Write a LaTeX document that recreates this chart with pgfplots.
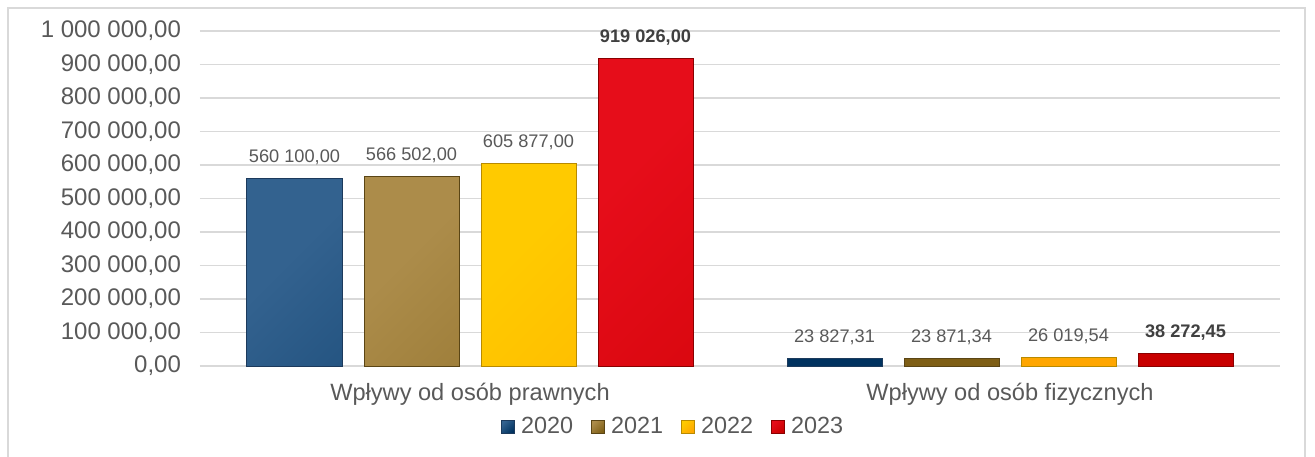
\documentclass[border=0pt]{standalone}
\usepackage{pgfplots}
\pgfplotsset{compat=1.18}
\usepackage{fontspec}
\setmainfont{Liberation Sans}

\definecolor{txt}{HTML}{595959}
\definecolor{txtb}{HTML}{404040}
\definecolor{gridc}{HTML}{D9D9D9}
\definecolor{blueA}{HTML}{33628F}
\definecolor{blueB}{HTML}{00325F}
\definecolor{blueE}{HTML}{1C3A5C}
\definecolor{brownA}{HTML}{AC8C4A}
\definecolor{brownB}{HTML}{7E5E15}
\definecolor{brownE}{HTML}{5A4515}
\definecolor{yelA}{HTML}{FFCA00}
\definecolor{yelB}{HTML}{FFA600}
\definecolor{yelE}{HTML}{B88A00}
\definecolor{redA}{HTML}{E60D1A}
\definecolor{redB}{HTML}{C80000}
\definecolor{redE}{HTML}{8A0000}

\pgfplotsset{
  mybar/.style n args={3}{
    draw=#3, line width=0.5pt,
    top color=#1, bottom color=#2, shading angle=45,
    legend image code/.code={\draw[##1] (0pt,-3.25pt) rectangle (6.5pt,3.25pt);},
    nodes near coords,
    point meta=explicit symbolic,
    every node near coord/.append style={anchor=center, yshift=10.5pt,
      font=\fontsize{9.1}{11}\selectfont, text=txt},
  },
}

\begin{document}
\begin{tikzpicture}
\begin{axis}[
  at={(0,0)}, anchor=south west,
  scale only axis, width=540pt, height=167.5pt,
  ybar=11pt, bar width=47.5pt,
  xmin=-0.5, xmax=1.5, ymin=0, ymax=1000000,
  xtick={0,1},
  xticklabels={Wpływy od osób prawnych, Wpływy od osób fizycznych},
  ytick={0,100000,200000,300000,400000,500000,600000,700000,800000,900000,1000000},
  scaled y ticks=false,
  yticklabel style={font=\fontsize{12}{14}\selectfont, text=txt, xshift=-6pt,
    /pgf/number format/.cd, fixed, fixed zerofill, precision=2,
    use comma, 1000 sep={\ }, assume math mode=true},
  xticklabel style={font=\fontsize{11.8}{14}\selectfont, text=txt, yshift=-5pt},
  ymajorgrids, major grid style={draw=gridc, line width=0.75pt},
  axis line style={draw=none}, major tick length=0pt,
  clip=false,
  legend columns=4,
  legend style={at={(0.439,-0.182)}, anchor=center, draw=none, fill=none,
    font=\fontsize{11.7}{14}\selectfont, text=txt,
    /tikz/every even column/.append style={column sep=7pt},
    /tikz/every odd column/.append style={column sep=1pt}},
]
\addplot[mybar={blueA}{blueB}{blueE}] coordinates {
  (0,560100.00) [560 100,00]
  (1,23827.31) [23 827,31]
};
\addplot[mybar={brownA}{brownB}{brownE}] coordinates {
  (0,566502.00) [566 502,00]
  (1,23871.34) [23 871,34]
};
\addplot[mybar={yelA}{yelB}{yelE}] coordinates {
  (0,605877.00) [605 877,00]
  (1,26019.54) [26 019,54]
};
\addplot[mybar={redA}{redB}{redE},
  every node near coord/.append style={font=\fontsize{9.1}{11}\selectfont\bfseries, text=txtb}]
  coordinates {
  (0,919026.00) [919 026,00]
  (1,38272.45) [38 272,45]
};
\legend{2020, 2021, 2022, 2023}
\end{axis}
\pgfresetboundingbox
\useasboundingbox (-100pt,-45pt) rectangle (557.5pt,183pt);
\draw[gridc, line width=0.75pt] (-96pt,-50pt) -- (-96pt,179pt) -- (552.5pt,179pt) -- (552.5pt,-50pt);
\end{tikzpicture}
\end{document}
